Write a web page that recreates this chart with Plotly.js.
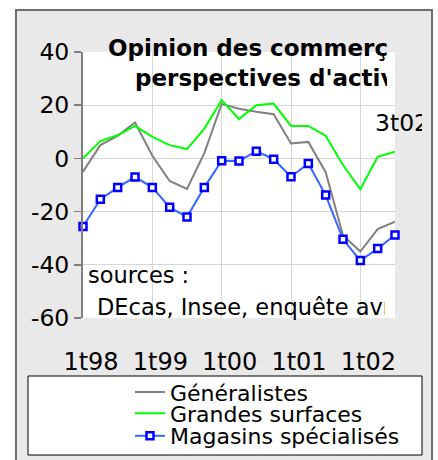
<!DOCTYPE html>
<html>
<head>
<meta charset="utf-8">
<script src="https://cdn.plot.ly/plotly-3.0.1.min.js"></script>
<style>
  html, body { margin: 0; padding: 0; background: #ffffff; width: 438px; height: 460px; overflow: hidden; }
  #chart { position: absolute; left: 15px; top: 9px; width: 414px; height: 460px; border: 2px solid #6e6e6e; }
</style>
</head>
<body>
<div id="chart"></div>
<script>
// Quarters 1t98 .. 3t02
const quarters = ['1t98','2t98','3t98','4t98','1t99','2t99','3t99','4t99',
                  '1t00','2t00','3t00','4t00','1t01','2t01','3t01','4t01',
                  '1t02','2t02','3t02'];
const generalistes = [-5, 5, 8.5, 13.5, 1, -8.5, -11.5, 2, 20.5, 18.7, 17.5, 16.6, 5.6, 6.2, -5.2, -29, -35, -26.6, -23.8];
const grandesSurfaces = [0, 6.5, 8.7, 12.2, 8.1, 5, 3.5, 11.2, 21.9, 14.8, 20, 20.6, 12.2, 12.2, 8.5, -2.5, -11.6, 0.6, 2.5];
const magasins = [-25.6, -15.4, -10.9, -7, -10.9, -18.4, -22, -10.9, -0.9, -1, 2.7, -0.3, -6.9, -1.9, -13.8, -30.4, -38.4, -33.9, -28.8];
const tickLabels = ['1t98','1t99','1t00','1t01','1t02'];
const yTickValues = [-60, -40, -20, 0, 20, 40];
const yTickLabels = ['-60', '-40', '-20', '0', '20', '40'];
const seriesNames = ['Généralistes', 'Grandes surfaces', 'Magasins spécialisés'];

const xIdx = quarters.map((q, i) => i);
const tickIdx = tickLabels.map(t => quarters.indexOf(t));
const halfYearIdx = xIdx.filter(i => i % 2 === 0);

const FONT = 'DejaVu Sans, Verdana, sans-serif';

const traces = [
  { x: xIdx, y: generalistes, name: seriesNames[0], type: 'scatter', mode: 'lines',
    line: { color: '#808080', width: 2 }, cliponaxis: false, legend: 'legend' },
  { x: xIdx, y: grandesSurfaces, name: seriesNames[1], type: 'scatter', mode: 'lines',
    line: { color: '#00ff00', width: 2 }, cliponaxis: false, legend: 'legend2' },
  { x: xIdx, y: magasins, name: seriesNames[2], type: 'scatter', mode: 'lines+markers',
    line: { color: '#3366ff', width: 2 },
    marker: { symbol: 'square', size: 7, color: '#ffffff', line: { color: '#0000ff', width: 2.5 } },
    cliponaxis: false, legend: 'legend3' }
];

// plot area in page px: x 83..395, y 52..318
const px = v => (v - 83) / 312;
const py = v => (318 - v) / 266;

const legendBase = {
  xanchor: 'left', yanchor: 'middle', bgcolor: 'rgba(0,0,0,0)', borderwidth: 0,
  font: { family: FONT, size: 22, color: '#000000' }
};

const layout = {
  width: 414, height: 460,
  margin: { l: 66, r: 36, t: 41, b: 153, autoexpand: false },
  paper_bgcolor: '#e9e9e9',
  plot_bgcolor: '#ffffff',
  font: { family: FONT, size: 23, color: '#000000' },
  showlegend: true,
  legend: Object.assign({}, legendBase, { x: px(130), y: py(392.3) }),
  legend2: Object.assign({}, legendBase, { x: px(130), y: py(413.5) }),
  legend3: Object.assign({}, legendBase, { x: px(130), y: py(436) }),
  xaxis: {
    range: [0, 18], type: 'linear',
    tickmode: 'array', tickvals: tickIdx, ticktext: tickLabels,
    showgrid: true, gridcolor: '#d6d6d6', gridwidth: 1,
    zeroline: false, showline: false,
    ticks: 'outside', ticklen: 22, tickcolor: 'rgba(0,0,0,0)',
    ticklabelshift: 8,
    tickfont: { family: FONT, size: 24, color: '#000000' },
    fixedrange: true
  },
  xaxis2: {
    range: [0, 18], type: 'linear', overlaying: 'x', anchor: 'free', position: 0.6,
    tickmode: 'array', tickvals: halfYearIdx,
    showgrid: false, zeroline: false, showline: true, linecolor: '#808080', linewidth: 2,
    ticks: 'outside', ticklen: 5, tickcolor: '#808080', tickwidth: 1.5,
    showticklabels: false, fixedrange: true
  },
  yaxis: {
    range: [-60, 40], tickmode: 'array', tickvals: yTickValues, ticktext: yTickLabels,
    showgrid: true, gridcolor: '#d6d6d6', gridwidth: 1,
    zeroline: false, showline: true, linecolor: '#808080', linewidth: 2,
    ticks: 'outside', ticklen: 7, tickcolor: '#808080', tickwidth: 1.5,
    tickfont: { family: FONT, size: 23.5, color: '#000000' },
    fixedrange: true
  },
  shapes: [
    { type: 'rect', xref: 'paper', yref: 'paper',
      x0: px(28), x1: px(422), y0: py(455), y1: py(376),
      fillcolor: '#ffffff', line: { color: '#000000', width: 1 }, layer: 'above' }
  ],
  annotations: [
    { text: '<b>Opinion des commerçants sur leurs</b>', xref: 'paper', yref: 'paper',
      x: px(106), y: py(48), xanchor: 'left', yanchor: 'middle', align: 'left',
      width: 280, showarrow: false, font: { family: FONT, size: 23, color: '#000000' } },
    { text: "<b>perspectives d'activité</b>", xref: 'paper', yref: 'paper',
      x: px(133), y: py(78), xanchor: 'left', yanchor: 'middle', align: 'left',
      width: 252, showarrow: false, font: { family: FONT, size: 23, color: '#000000' } },
    { text: '3t02', xref: 'paper', yref: 'paper',
      x: px(373), y: py(123.4), xanchor: 'left', yanchor: 'middle', align: 'left',
      width: 47, showarrow: false, font: { family: FONT, size: 23.5, color: '#000000' } },
    { text: 'sources :', xref: 'paper', yref: 'paper',
      x: px(86.3), y: py(275.1), xanchor: 'left', yanchor: 'middle', align: 'left',
      showarrow: false, font: { family: FONT, size: 22.5, color: '#000000' } },
    { text: 'DEcas, Insee, enquête avril 2002', xref: 'paper', yref: 'paper',
      x: px(94.7), y: py(307.4), xanchor: 'left', yanchor: 'middle', align: 'left',
      width: 288, showarrow: false, font: { family: FONT, size: 22.5, color: '#000000' } }
  ]
};

Plotly.newPlot('chart', traces, layout, { displayModeBar: false, staticPlot: true });
</script>
</body>
</html>
